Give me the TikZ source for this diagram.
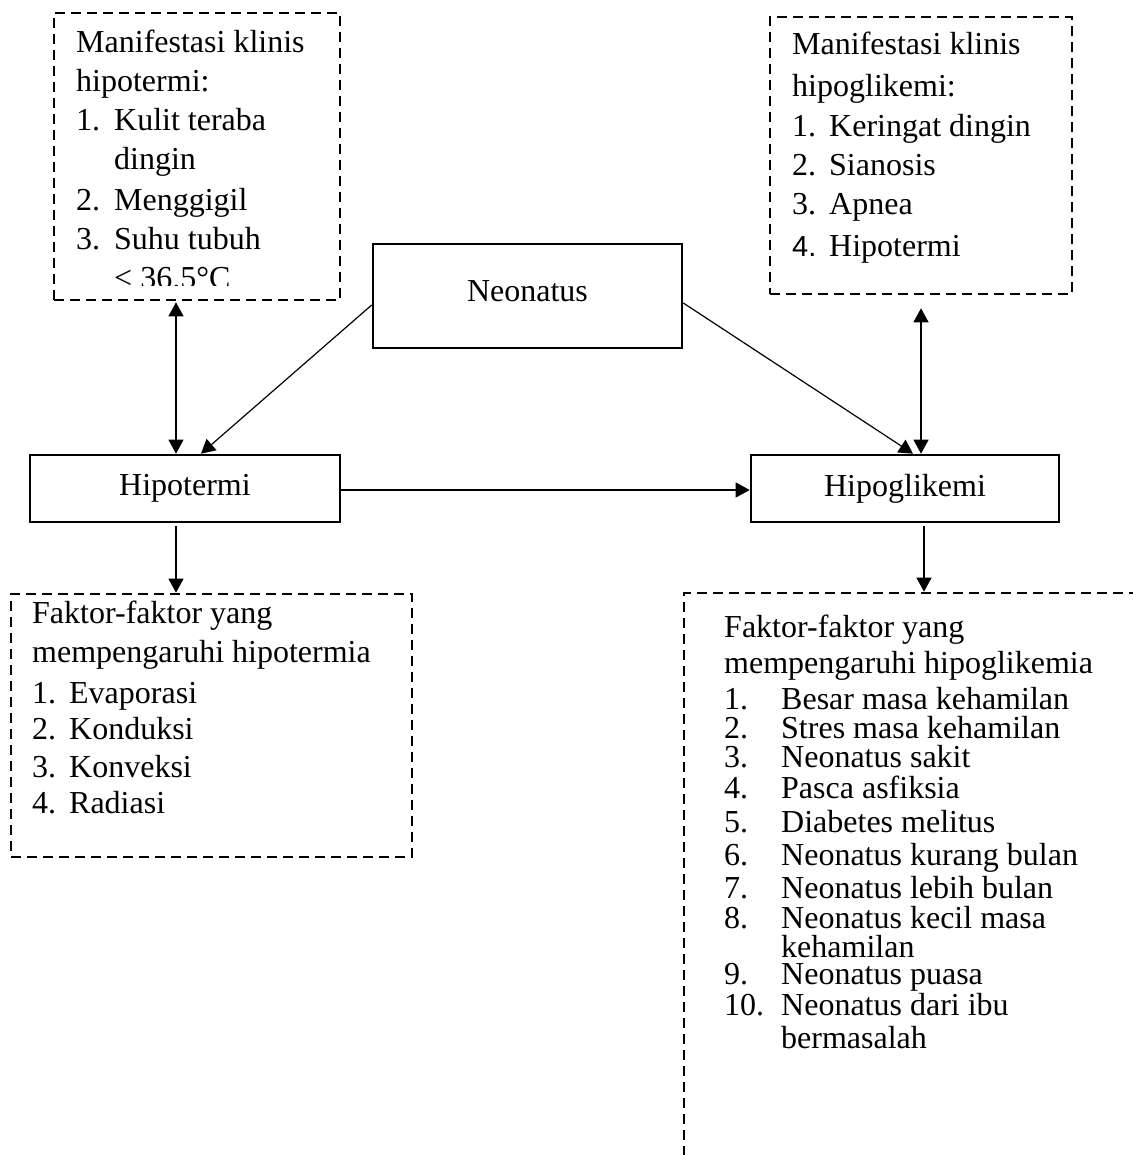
\documentclass[tikz,border=0pt]{standalone}
\usepackage{fontspec}
\setmainfont{Liberation Serif}
\newfontfamily\sansf{Liberation Sans}
\usetikzlibrary{arrows.meta}
\newcommand\itmlab[2][38pt]{\makebox[#1][l]{#2}}
\begin{document}
\begin{tikzpicture}[x=1pt,y=-1pt,
  txt/.style={anchor=base west,inner sep=0pt,font=\fontsize{32}{38}\selectfont},
  solidbox/.style={draw,line width=2.6pt,inner sep=0pt,font=\fontsize{32}{38}\selectfont},
  dashbox/.style={draw,line width=2.6pt,dash pattern=on 10pt off 6pt,inner sep=0pt},
  conn/.style={line width=1.2pt,-{Triangle[length=14pt,width=15pt]}},
  dconn/.style={line width=1.2pt,{Triangle[length=14pt,width=15pt]}-{Triangle[length=14pt,width=15pt]}}]
\useasboundingbox (0,0) rectangle (1132,1155);

% solid boxes
\node[solidbox,minimum width=309pt,minimum height=104pt] (neo) at (527.5,296) {\raisebox{9pt}{Neonatus}};
\node[solidbox,minimum width=310pt,minimum height=67pt] (hipo) at (185,488.5) {\raisebox{3pt}{Hipotermi}};
\node[solidbox,minimum width=308pt,minimum height=67pt] (hglk) at (905,488.5) {\raisebox{3pt}{Hipoglikemi}};

% dashed boxes
\node[dashbox,minimum width=286pt,minimum height=287pt] (mkl) at (197,156.5) {};
\node[dashbox,minimum width=302pt,minimum height=277pt] (mkr) at (921,155.5) {};
\node[dashbox,minimum width=401pt,minimum height=263pt] (fkl) at (211.5,725.5) {};
\node[dashbox,minimum width=516pt,minimum height=607pt] (fkr) at (942,896.5) {};

% top-left text
\begin{scope}
\clip (54,13) rectangle (340,286);
\node[txt] (tl1) at (76,53) {Manifestasi klinis};
\node[txt] (tl2) at (76,92) {hipotermi:};
\node[txt] (tl3) at (76,131) {\itmlab{1.}Kulit teraba};
\node[txt] (tl4) at (114,170) {dingin};
\node[txt] (tl5) at (76,211) {\itmlab{2.}Menggigil};
\node[txt] (tl6) at (76,250) {\itmlab{3.}Suhu tubuh};
\node[txt] (tl7) at (114,289) {< 36.5°C};
\end{scope}

% top-right text
\node[txt] (tr1) at (792,55) {Manifestasi klinis};
\node[txt] (tr2) at (792,97) {hipoglikemi:};
\node[txt] (tr3) at (792,137) {\itmlab[37pt]{1.}Keringat dingin};
\node[txt] (tr4) at (792,176) {\itmlab[37pt]{2.}Sianosis};
\node[txt] (tr5) at (792,215) {\itmlab[37pt]{3.}Apnea};
\node[txt] (tr6) at (792,257) {\itmlab[37pt]{{\sansf\fontsize{29}{34}\selectfont 4.}}Hipotermi};

% bottom-left text
\node[txt] (bl1) at (32,623) {Faktor-faktor yang};
\node[txt] (bl2) at (32,662) {mempengaruhi hipotermia};
\node[txt] (bl3) at (32,703) {\itmlab[37pt]{1.}Evaporasi};
\node[txt] (bl4) at (32,739) {\itmlab[37pt]{2.}Konduksi};
\node[txt] (bl5) at (32,777) {\itmlab[37pt]{3.}Konveksi};
\node[txt] (bl6) at (32,813) {\itmlab[37pt]{4.}Radiasi};

% bottom-right text
\node[txt] (br1) at (724,637) {Faktor-faktor yang};
\node[txt] (br2) at (724,673) {mempengaruhi hipoglikemia};
\node[txt] (br3) at (724,709) {\itmlab[57pt]{1.}Besar masa kehamilan};
\node[txt] (br4) at (724,738) {\itmlab[57pt]{2.}Stres masa kehamilan};
\node[txt] (br5) at (724,767) {\itmlab[57pt]{3.}Neonatus sakit};
\node[txt] (br6) at (724,798) {\itmlab[57pt]{4.}Pasca asfiksia};
\node[txt] (br7) at (724,832) {\itmlab[57pt]{5.}Diabetes melitus};
\node[txt] (br8) at (724,865) {\itmlab[57pt]{6.}Neonatus kurang bulan};
\node[txt] (br9) at (724,898) {\itmlab[57pt]{7.}Neonatus lebih bulan};
\node[txt] (br10) at (724,928) {\itmlab[57pt]{8.}Neonatus kecil masa};
\node[txt] (br11) at (781,957) {kehamilan};
\node[txt] (br12) at (724,984) {\itmlab[57pt]{9.}Neonatus puasa};
\node[txt] (br13) at (724,1015) {\itmlab[57pt]{10.}Neonatus dari ibu};
\node[txt] (br14) at (781,1048) {bermasalah};

% connector x positions
\coordinate (xl) at (176,0);
\coordinate (xr) at (921,0);
\coordinate (xrd) at (924,0);

% connectors
\draw[dconn,shorten <=1pt] (mkl.south -| xl) -- (hipo.north -| xl);
\draw[dconn,shorten <=13pt] (mkr.south -| xr) -- (hglk.north -| xr);
\draw[conn] ([yshift=-9pt]neo.west) -- ([xshift=16pt]hipo.north);
\draw[conn] ([yshift=-7pt]neo.east) -- ([xshift=8pt]hglk.north);
\draw[conn] ([yshift=-1.5pt]hipo.east) -- ([yshift=-1.5pt]hglk.west);
\draw[conn,shorten <=3pt] (hipo.south -| xl) -- (fkl.north -| xl);
\draw[conn,shorten <=3pt] (hglk.south -| xrd) -- (fkr.north -| xrd);
\end{tikzpicture}
\end{document}
